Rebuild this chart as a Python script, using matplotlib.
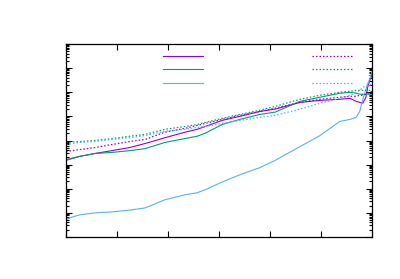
import matplotlib
matplotlib.use("Agg")
import matplotlib.pyplot as plt
from matplotlib.ticker import LogLocator, NullFormatter

# shared x grid for all six series
x = [0.0, 0.27, 0.57, 0.90, 1.25, 1.55, 1.94, 2.33, 2.57, 2.73, 3.06, 3.41, 3.80,
     4.10, 4.59, 4.98, 5.37, 5.57, 5.69, 5.76, 5.82, 5.88, 5.92, 5.96, 6.00]

purple_solid = [1600, 2200, 2900, 3800, 5100, 7500, 1.3e4, 2.2e4, 2.9e4, 3.8e4, 6.8e4, 1.0e5, 1.6e5,
                2.0e5, 3.8e5, 4.6e5, 5.1e5, 5.6e5, 4.2e5, 3.8e5, 3.5e5, 6.2e5, 1.8e6, 3.2e6, 5.6e6]
green_solid = [1500, 2200, 2900, 3200, 3800, 4600, 8300, 1.2e4, 1.5e4, 2.0e4, 4.6e4, 7.5e4, 1.2e5,
               1.5e5, 4.2e5, 6.2e5, 9.1e5, 1.0e6, 9.1e5, 8.3e5, 8.3e5, 8.3e5, 8.3e5, 8.3e5, 8.3e5]
blue_solid = [5.6, 8.3, 10, 11, 13, 16, 35, 56, 68, 91, 190, 380, 750,
              1500, 5600, 1.6e4, 6.2e4, 7.5e4, 9.1e4, 1.6e5, 5.1e5, 1.3e6, 2.4e6, 3.8e6, 7.5e6]
purple_dot = [3500, 4200, 5100, 6800, 9100, 1.1e4, 2.2e4, 3.2e4, 4.2e4, 5.1e4, 7.5e4, 1.1e5, 1.6e5,
              2.2e5, 3.8e5, 5.1e5, 6.2e5, 6.8e5, 6.8e5, 7.5e5, 7.5e5, 8.3e5, 9.1e5, 1.0e6, 1.1e6]
green_dot = [8300, 9100, 1.0e4, 1.2e4, 1.5e4, 1.8e4, 2.9e4, 3.8e4, 4.6e4, 5.6e4, 8.3e4, 1.2e5, 1.8e5,
             2.6e5, 5.1e5, 7.5e5, 1.0e6, 1.1e6, 1.2e6, 1.2e6, 1.2e6, 1.2e6, 1.2e6, 1.2e6, 1.2e6]
blue_dot = [6800, 8300, 9100, 1.1e4, 1.3e4, 1.6e4, 2.4e4, 2.9e4, 3.5e4, 3.8e4, 5.1e4, 6.8e4, 9.1e4,
            1.1e5, 2.0e5, 3.5e5, 5.6e5, 7.5e5, 1.0e6, 1.2e6, 1.6e6, 1.8e6, 2.0e6, 2.0e6, 2.2e6]

purple = "#9400d3"
green = "#009e73"
blue = "#56b4e9"
dots = (0, (1.2, 1.6))

fig = plt.figure(figsize=(4, 2.79), dpi=100)
ax = fig.add_axes([66/400, 42/279, 306/400, 193/279])

l1, = ax.plot(x, purple_solid, color=purple, lw=0.8)
l2, = ax.plot(x, green_solid, color=green, lw=0.8)
l3, = ax.plot(x, blue_solid, color=blue, lw=0.8)
l4, = ax.plot(x, purple_dot, color=purple, lw=0.9, ls=dots)
l5, = ax.plot(x, green_dot, color=green, lw=0.9, ls=dots)
l6, = ax.plot(x, blue_dot, color=blue, lw=0.9, ls=dots)

ax.set_yscale("log")
ax.set_xlim(0, 6)
ax.set_ylim(1, 1e8)
ax.set_xticks(range(7))
ax.yaxis.set_major_locator(LogLocator(base=10, numticks=20))
ax.yaxis.set_minor_locator(LogLocator(base=10, subs=(2, 3, 4, 5, 6, 7, 8, 9), numticks=20))
ax.yaxis.set_minor_formatter(NullFormatter())
ax.tick_params(which="both", direction="in", top=True, right=True,
               labelbottom=False, labelleft=False, width=0.8)
ax.tick_params(which="major", length=4)
ax.tick_params(which="minor", length=2)
for s in ax.spines.values():
    s.set_linewidth(0.9)

leg_kw = dict(frameon=False, fontsize=9, handlelength=3.2, borderpad=0,
              borderaxespad=0, labelspacing=0.05, handletextpad=0,
              loc="upper left", bbox_transform=fig.transFigure)
leg1 = ax.legend([l1, l2, l3], [" ", " ", " "], bbox_to_anchor=(163/400, 1 - 50/279), **leg_kw)
ax.add_artist(leg1)
ax.legend([l4, l5, l6], [" ", " ", " "], bbox_to_anchor=(312/400, 1 - 50/279), **leg_kw)

fig.savefig("out.png", dpi=100)
